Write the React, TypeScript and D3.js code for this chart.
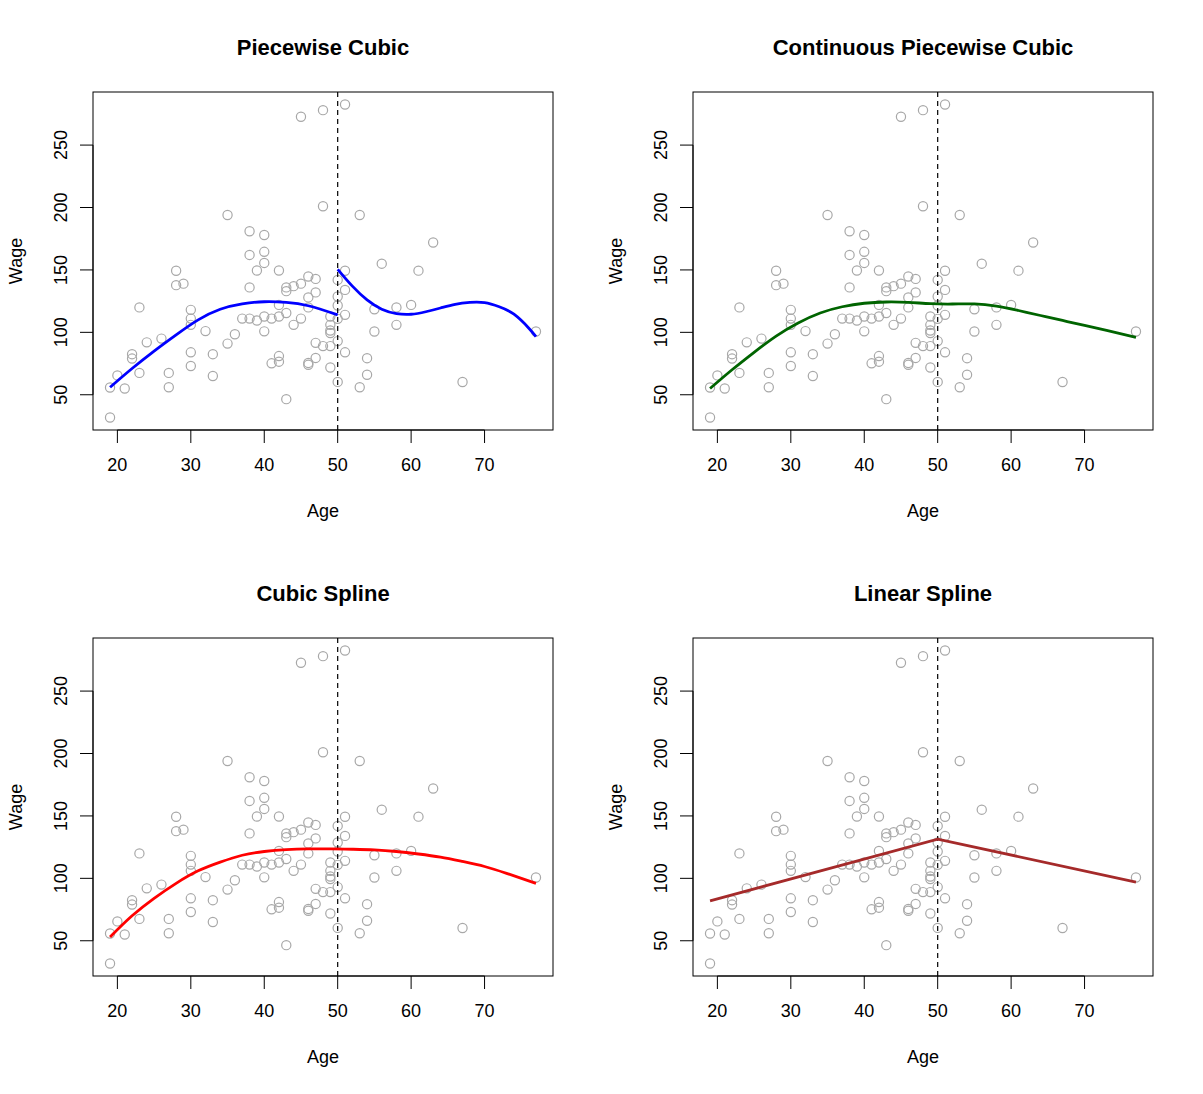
import { useEffect } from 'react';
import * as d3 from 'd3';

// scatter: Wage vs Age (same sample in all four panels)
const ages = [
  19, 19, 20, 21, 22, 22, 23, 23, 24, 26, 27, 27, 28, 28, 29,
  30, 30, 30, 30, 30, 32, 33, 33, 35, 35, 36, 37, 38, 38, 38, 38,
  39, 39, 40, 40, 40, 40, 40, 41, 41, 42, 42, 42, 42, 42,
  43, 43, 43, 43, 44, 44, 45, 45, 45, 46, 46, 46, 46, 46,
  47, 47, 47, 47, 48, 48, 48, 49, 49, 49, 49, 49, 49,
  50, 50, 50, 50, 50, 50, 51, 51, 51, 51, 51, 53, 53, 54, 54,
  55, 55, 56, 58, 58, 60, 61, 63, 67, 77,
];
const wages = [
  55.8, 31.8, 65.5, 55, 82.5, 79, 120, 67.5, 92, 95, 67.5, 56, 149.3, 137.8, 139,
  118, 111, 106, 84, 73, 101, 82.5, 65, 91, 194, 98.5, 111, 111, 136, 181, 162,
  149.5, 109.5, 178, 164.5, 155.6, 112.7, 100.8, 111, 75.2, 149.5, 122, 112.7, 81, 76.5,
  136, 133, 115.5, 46.5, 137, 106, 272.7, 139, 111, 144.7, 128, 120, 75.5, 74,
  142.8, 132, 91.6, 79.5, 278, 201, 89, 112.7, 106, 101.5, 99.5, 89, 71.8,
  142, 128.7, 121.5, 110.8, 93, 60.3, 282.5, 149.3, 134, 114, 84, 194, 56, 79.3, 66,
  118.5, 100.7, 155, 120, 106, 122, 149.4, 172, 60.2, 100.7,
];

const knot = 50;

// fitted curves
const pcLeftAge = [19, 22, 25, 28, 31, 34, 37, 40, 43, 46, 50];
const pcLeftWage = [56, 71, 85, 98, 110, 118.5, 122.8, 124.5, 124, 121.3, 114];
const pcRightAge = [50, 52, 54, 56, 58, 60, 62, 64, 66, 68, 70, 72, 74, 76, 77];
const pcRightWage = [150.5, 137, 126, 118.5, 115, 114.5, 116.5, 119.5, 122.5, 124, 123.8, 120.5, 114.5, 103.5, 96.5];

const cpcAge = [19, 22, 25, 28, 31, 34, 37, 40, 43, 46, 49, 52, 55, 58, 61, 64, 67, 70, 73, 77];
const cpcWage = [55, 70, 84, 97, 107.5, 115.5, 120.5, 123.3, 124.3, 124, 123, 122.7, 122.8, 121, 117.5, 113.5, 109.5, 105.5, 101.5, 96];

const csAge = [19, 22, 25, 28, 31, 34, 37, 40, 43, 46, 49, 52, 55, 58, 61, 64, 67, 70, 73, 77];
const csWage = [53, 70, 84, 96, 106, 113, 118.5, 121.5, 123, 123.6, 123.6, 123.3, 122.8, 121.5, 119.5, 117, 113.5, 109.5, 104, 96];

const lsAge = [19, 50, 77];
const lsWage = [82, 131.4, 97];

const xTickLabels = ['20', '30', '40', '50', '60', '70'];
const yTickLabels = ['50', '100', '150', '200', '250'];

const FONT = 'Liberation Sans, Arial, Helvetica, sans-serif';
const BOX_W = 460;
const BOX_H = 338;

const zip = (a: number[], b: number[]): [number, number][] => a.map((v, i) => [v, b[i]]);

function Panel({ x0, y0, title, color, fits, linear }: {
  x0: number; y0: number; title: string; color: string;
  fits: [number, number][][]; linear?: boolean;
}) {
  // R style 4% padding on the data range
  const [ax0, ax1] = d3.extent(ages) as [number, number];
  const [wy0, wy1] = d3.extent(wages) as [number, number];
  const px = (ax1 - ax0) * 0.04;
  const py = (wy1 - wy0) * 0.04;
  const x = d3.scaleLinear().domain([ax0 - px, ax1 + px]).range([x0, x0 + BOX_W]);
  const y = d3.scaleLinear().domain([wy0 - py, wy1 + py]).range([y0 + BOX_H, y0]);

  const xt = xTickLabels.map(Number);
  const yt = yTickLabels.map(Number);

  const line = d3.line<[number, number]>()
    .x(d => x(d[0]))
    .y(d => y(d[1]))
    .curve(linear ? d3.curveLinear : d3.curveNatural);

  const bottom = y0 + BOX_H;

  return (
    <g fontFamily={FONT}>
      <text x={x0 + BOX_W / 2} y={y0 - 45} dy="0.35em" textAnchor="middle"
        fontSize={22} fontWeight="bold">{title}</text>

      {ages.map((a, i) => (
        <circle key={i} cx={x(a)} cy={y(wages[i])} r={4.6}
          fill="none" stroke="#a8a8a8" strokeWidth={1.2} />
      ))}

      <line x1={x(knot)} x2={x(knot)} y1={y0} y2={bottom}
        stroke="#000" strokeWidth={1.2} strokeDasharray="5,4" />

      {fits.map((f, i) => (
        <path key={i} d={line(f) || ''} fill="none" stroke={color} strokeWidth={2.8} />
      ))}

      <rect x={x0} y={y0} width={BOX_W} height={BOX_H} fill="none" stroke="#000" strokeWidth={1} />

      {/* x axis */}
      <line x1={x(xt[0])} x2={x(xt[xt.length - 1])} y1={bottom} y2={bottom} stroke="#000" />
      {xt.map((t, i) => (
        <g key={t}>
          <line x1={x(t)} x2={x(t)} y1={bottom} y2={bottom + 13} stroke="#000" />
          <text x={x(t)} y={bottom + 35} dy="0.35em" textAnchor="middle" fontSize={18}>{xTickLabels[i]}</text>
        </g>
      ))}
      <text x={x0 + BOX_W / 2} y={bottom + 81} dy="0.35em" textAnchor="middle" fontSize={18}>Age</text>

      {/* y axis */}
      <line x1={x0} x2={x0} y1={y(yt[0])} y2={y(yt[yt.length - 1])} stroke="#000" />
      {yt.map((t, i) => (
        <g key={t}>
          <line x1={x0 - 13} x2={x0} y1={y(t)} y2={y(t)} stroke="#000" />
          <text transform={`translate(${x0 - 32},${y(t)}) rotate(-90)`} dy="0.35em"
            textAnchor="middle" fontSize={18}>{yTickLabels[i]}</text>
        </g>
      ))}
      <text transform={`translate(${x0 - 77},${y0 + BOX_H / 2}) rotate(-90)`} dy="0.35em"
        textAnchor="middle" fontSize={18}>Wage</text>
    </g>
  );
}

export default function App() {
  useEffect(() => {
    document.body.style.margin = '0';
  }, []);

  return (
    <svg width={1203} height={1094} style={{ display: 'block', background: '#fff' }}>
      <Panel x0={93} y0={92} title="Piecewise Cubic" color="#0000ff"
        fits={[zip(pcLeftAge, pcLeftWage), zip(pcRightAge, pcRightWage)]} />
      <Panel x0={693} y0={92} title="Continuous Piecewise Cubic" color="#006400"
        fits={[zip(cpcAge, cpcWage)]} />
      <Panel x0={93} y0={638} title="Cubic Spline" color="#ff0000"
        fits={[zip(csAge, csWage)]} />
      <Panel x0={693} y0={638} title="Linear Spline" color="#a52a2a"
        fits={[zip(lsAge, lsWage)]} linear />
    </svg>
  );
}
